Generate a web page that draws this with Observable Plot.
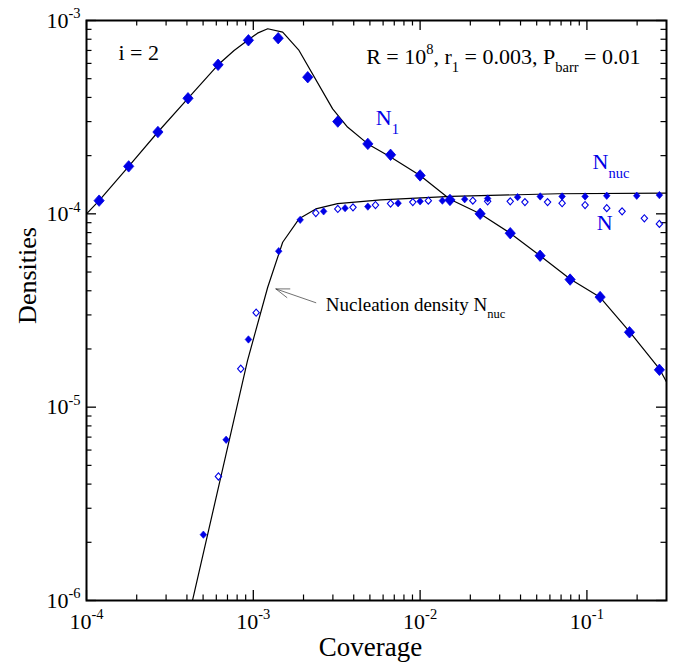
<!DOCTYPE html>
<html>
<head>
<meta charset="utf-8">
<script src="https://cdn.jsdelivr.net/npm/d3@7"></script>
<script src="https://cdn.jsdelivr.net/npm/@observablehq/plot@0.6"></script>
<style>
  html, body { margin: 0; padding: 0; background: white; }
</style>
</head>
<body>
<div id="chart"></div>
<script>
// ---- data ----
// N1 simulation points (large filled diamonds)
const n1X = [1.19e-4, 1.79e-4, 2.68e-4, 4.06e-4, 6.15e-4, 9.35e-4, 1.41e-3, 2.12e-3, 3.21e-3, 4.86e-3,
             6.65e-3, 1.0e-2, 1.51e-2, 2.29e-2, 3.47e-2, 5.24e-2, 7.93e-2, 0.12, 0.18, 0.272];
const n1Y = [1.17e-4, 1.76e-4, 2.65e-4, 3.96e-4, 5.9e-4, 7.9e-4, 8.1e-4, 5.09e-4, 3.0e-4, 2.30e-4,
             2.02e-4, 1.58e-4, 1.18e-4, 1.0e-4, 7.94e-5, 6.07e-5, 4.57e-5, 3.71e-5, 2.44e-5, 1.56e-5];
// Nucleation density points (small filled diamonds)
const nucX = [5.02e-4, 6.87e-4, 9.35e-4, 1.42e-3, 1.91e-3, 2.64e-3, 3.55e-3, 4.86e-3, 7.38e-3, 1.0e-2,
              1.36e-2, 1.85e-2, 2.54e-2, 3.84e-2, 5.25e-2, 7.1e-2, 9.75e-2, 0.1315, 0.199, 0.272];
const nucY = [2.19e-6, 6.78e-6, 2.24e-5, 6.41e-5, 9.31e-5, 1.03e-4, 1.07e-4, 1.09e-4, 1.135e-4, 1.16e-4,
              1.17e-4, 1.19e-4, 1.2e-4, 1.22e-4, 1.23e-4, 1.23e-4, 1.23e-4, 1.24e-4, 1.24e-4, 1.25e-4];
// Island density N points (small open diamonds)
const nX = [6.18e-4, 8.41e-4, 1.04e-3, 2.37e-3, 3.21e-3, 3.96e-3, 5.40e-3, 6.65e-3, 9.04e-3, 1.12e-2,
            2.07e-2, 2.54e-2, 3.47e-2, 4.25e-2, 5.81e-2, 7.1e-2, 9.75e-2, 0.1315, 0.1625, 0.221, 0.272];
const nY = [4.38e-6, 1.58e-5, 3.08e-5, 1.01e-4, 1.06e-4, 1.08e-4, 1.11e-4, 1.13e-4, 1.15e-4, 1.17e-4,
            1.17e-4, 1.16e-4, 1.16e-4, 1.15e-4, 1.15e-4, 1.135e-4, 1.11e-4, 1.07e-4, 1.03e-4, 9.48e-5, 8.87e-5];
// Theory curve for N1
const n1CurveX = [1e-4, 1.19e-4, 1.79e-4, 2.68e-4, 4.06e-4, 6.15e-4, 7.67e-4, 9.35e-4, 1.06e-3, 1.22e-3,
                  1.5e-3, 1.88e-3, 2.99e-3, 3.67e-3, 4.86e-3, 6.65e-3, 1e-2, 1.51e-2, 2.29e-2, 3.47e-2,
                  5.24e-2, 7.93e-2, 0.12, 0.18, 0.272, 0.3];
const n1CurveY = [1.0e-4, 1.17e-4, 1.76e-4, 2.65e-4, 3.96e-4, 5.9e-4, 7.0e-4, 7.95e-4, 8.6e-4, 9.06e-4,
                  8.7e-4, 7.0e-4, 3.49e-4, 2.81e-4, 2.3e-4, 1.97e-4, 1.58e-4, 1.19e-4, 1.0e-4, 7.94e-5,
                  6.07e-5, 4.6e-5, 3.7e-5, 2.46e-5, 1.58e-5, 1.35e-5];
// Theory curve for Nnuc
const nucCurveX = [4.32e-4, 9.23e-4, 1.22e-3, 1.5e-3, 1.88e-3, 2.37e-3, 3.2e-3, 5.81e-3, 1.53e-2, 6.7e-2, 0.3];
const nucCurveY = [1e-6, 1.74e-5, 4.17e-5, 7.13e-5, 9.42e-5, 1.06e-4, 1.13e-4, 1.18e-4, 1.23e-4, 1.27e-4, 1.28e-4];

// ticks
const xMajor = [1e-4, 1e-3, 1e-2, 1e-1];
const yMajor = [1e-6, 1e-5, 1e-4, 1e-3];
const mult = [2, 3, 4, 5, 6, 7, 8, 9];
const xMinor = xMajor.flatMap(d => mult.map(m => m * d)).filter(v => v < 0.29);
const yMinor = yMajor.slice(0, 3).flatMap(d => mult.map(m => m * d));

const toPts = (xs, ys) => xs.map((x, i) => ({x, y: ys[i]}));
const n1Pts = toPts(n1X, n1Y);
const nucPts = toPts(nucX, nucY);
const nPts = toPts(nX, nY);
const n1Curve = toPts(n1CurveX, n1CurveY);
const nucCurve = toPts(nucCurveX, nucCurveY);

// ---- layout ----
const W = 682, H = 664;
const mL = 86, mR = 16, mT = 20, mB = 64;
const pw = W - mL - mR, ph = H - mT - mB;
const blue = "#0000e6";
const font = "Liberation Serif, Times New Roman, serif";

const diamond = {
  draw(ctx, size) {
    const w = Math.sqrt(size) * 0.6, h = w * 1.12;
    ctx.moveTo(0, -h); ctx.lineTo(w, 0); ctx.lineTo(0, h); ctx.lineTo(-w, 0); ctx.closePath();
  }
};

const fmt = d => `10^{${Math.round(Math.log10(d))}}`;

const plot = Plot.plot({
  width: W, height: H,
  marginLeft: mL, marginRight: mR, marginTop: mT, marginBottom: mB,
  style: {fontFamily: font, background: "white", overflow: "visible"},
  x: {type: "log", domain: [1e-4, 0.3], axis: null},
  y: {type: "log", domain: [1e-6, 1e-3], axis: null},
  marks: [
    // inside ticks (all four sides)
    Plot.tickX(xMajor, {x: d => d, insetTop: ph - 10, stroke: "black", strokeWidth: 1.3}),
    Plot.tickX(xMajor, {x: d => d, insetBottom: ph - 10, stroke: "black", strokeWidth: 1.3}),
    Plot.tickX(xMinor, {x: d => d, insetTop: ph - 5.5, stroke: "black", strokeWidth: 1.2}),
    Plot.tickX(xMinor, {x: d => d, insetBottom: ph - 5.5, stroke: "black", strokeWidth: 1.2}),
    Plot.tickY(yMajor, {y: d => d, insetRight: pw - 10, stroke: "black", strokeWidth: 1.3}),
    Plot.tickY(yMajor, {y: d => d, insetLeft: pw - 10, stroke: "black", strokeWidth: 1.3}),
    Plot.tickY(yMinor, {y: d => d, insetRight: pw - 5.5, stroke: "black", strokeWidth: 1.2}),
    Plot.tickY(yMinor, {y: d => d, insetLeft: pw - 5.5, stroke: "black", strokeWidth: 1.2}),
    // tick labels
    Plot.text(xMajor, {x: d => d, frameAnchor: "bottom", dy: 28, lineAnchor: "bottom",
      text: fmt, fontSize: 22, fill: "black", textAnchor: "middle"}),
    Plot.text(yMajor, {y: d => d, frameAnchor: "left", dx: -6, lineAnchor: "middle",
      text: fmt, fontSize: 22, fill: "black", textAnchor: "end"}),
    // curves
    Plot.line(n1Curve, {x: "x", y: "y", stroke: "black", strokeWidth: 1.2, clip: true}),
    Plot.line(nucCurve, {x: "x", y: "y", stroke: "black", strokeWidth: 1.2, clip: true}),
    // points
    Plot.dot(nucPts, {x: "x", y: "y", symbol: diamond, r: 3.1, fill: blue, stroke: blue, strokeWidth: 0.6}),
    Plot.dot(nPts, {x: "x", y: "y", symbol: diamond, r: 3.0, fill: "none", stroke: blue, strokeWidth: 1.1}),
    Plot.dot(n1Pts, {x: "x", y: "y", symbol: diamond, r: 4.8, fill: blue, stroke: blue, strokeWidth: 0.8}),
    // arrow annotation
    Plot.arrow([{x1: 2.37e-3, y1: 3.47e-5, x2: 1.365e-3, y2: 4.09e-5}],
      {x1: "x1", y1: "y1", x2: "x2", y2: "y2", stroke: "#333", strokeWidth: 0.7, headLength: 30, headAngle: 38}),
    // annotations
    Plot.text(["Nucleation density N_{nuc}"], {x: 2.72e-3, y: 3.16e-5, text: d => d,
      textAnchor: "start", lineAnchor: "bottom", fontSize: 19, fill: "black"}),
    Plot.text(["N_{1}"], {x: 5.42e-3, y: 2.87e-4, text: d => d,
      textAnchor: "start", lineAnchor: "bottom", fontSize: 22, fill: blue}),
    Plot.text(["N_{nuc}"], {x: 0.108, y: 1.71e-4, text: d => d,
      textAnchor: "start", lineAnchor: "bottom", fontSize: 22, fill: blue}),
    Plot.text(["N"], {x: 0.1146, y: 8.2e-5, text: d => d,
      textAnchor: "start", lineAnchor: "bottom", fontSize: 22, fill: blue}),
    Plot.text(["i = 2"], {frameAnchor: "top-left", dx: 32, dy: 39, text: d => d,
      textAnchor: "start", lineAnchor: "bottom", fontSize: 22, fill: "black"}),
    Plot.text(["R = 10^{8}, r_{1} = 0.003, P_{barr} = 0.01"], {frameAnchor: "top-right", dx: -26, dy: 43, text: d => d,
      textAnchor: "end", lineAnchor: "bottom", fontSize: 22, fill: "black"}),
    // axis titles
    Plot.text(["Densities"], {frameAnchor: "left", dx: -51, dy: -35, rotate: -90, text: d => d,
      textAnchor: "middle", lineAnchor: "bottom", fontSize: 26, fill: "black"}),
    Plot.text(["Coverage"], {frameAnchor: "bottom", dx: -6, dy: 55, text: d => d,
      textAnchor: "middle", lineAnchor: "bottom", fontSize: 27, fill: "black"}),
    // frame
    Plot.frame({stroke: "black", strokeWidth: 2})
  ]
});

// turn ^{...} and _{...} into real super/subscript tspans
function rich(svg) {
  const NS = "http://www.w3.org/2000/svg";
  svg.querySelectorAll("text").forEach(t => {
    const s = t.textContent;
    if (!/[\^_]\{/.test(s)) return;
    const holder = t.closest("[font-size]");
    const fs = holder ? parseFloat(holder.getAttribute("font-size")) : 22;
    t.textContent = "";
    const re = /([\^_])\{([^}]*)\}|([^\^_]+)/g;
    let m, cur = 0;
    while ((m = re.exec(s))) {
      const ts = document.createElementNS(NS, "tspan");
      let target = 0, txt;
      if (m[1]) {
        target = m[1] === "^" ? -0.42 * fs : 0.4 * fs;
        ts.setAttribute("font-size", (0.66 * fs).toFixed(1));
        txt = m[2];
      } else {
        txt = m[3];
      }
      if (target !== cur) ts.setAttribute("dy", (target - cur).toFixed(1));
      cur = target;
      ts.textContent = txt;
      t.appendChild(ts);
    }
  });
}
rich(plot);
document.getElementById("chart").appendChild(plot);
</script>
</body>
</html>
